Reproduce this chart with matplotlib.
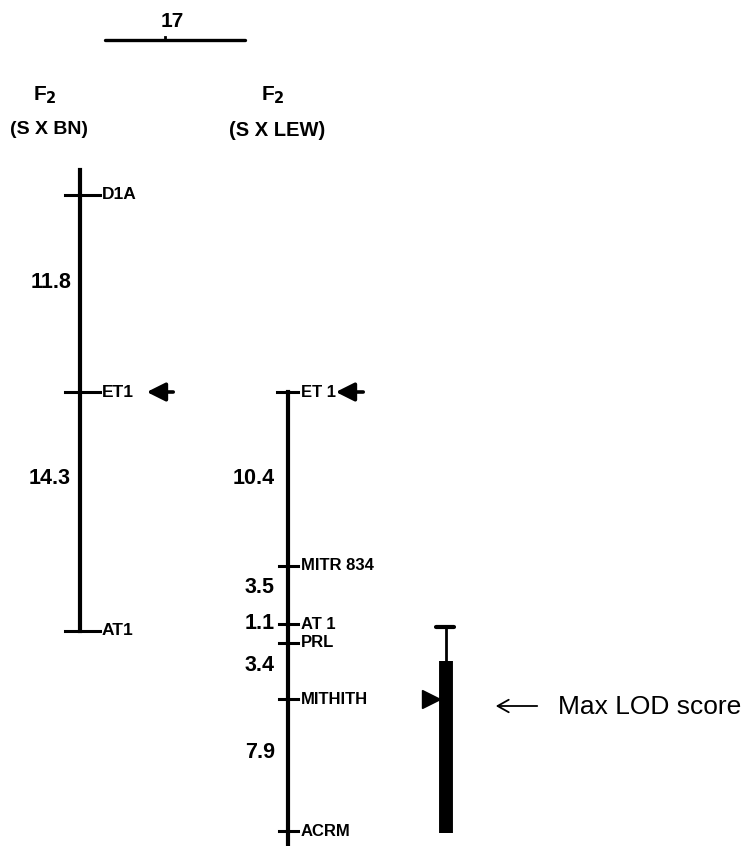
import numpy as np
import matplotlib.pyplot as plt

# ===== MAP DATA (cM) =====
left_markers = ["D1A", "ET1", "AT1"]
left_intervals = [11.8, 14.3]
right_markers = ["ET 1", "MITR 834", "AT 1", "PRL", "MITHITH", "ACRM"]
right_intervals = [10.4, 3.5, 1.1, 3.4, 7.9]
lod_outer = (14.1, 26.4)   # thin whisker + bar
lod_inner = (16.1, 26.4)   # solid bar
lod_peak_marker = "MITHITH"

left_pos = np.concatenate([[0], np.cumsum(left_intervals)])
left_pos -= left_pos[left_markers.index("ET1")]
right_pos = np.concatenate([[0], np.cumsum(right_intervals)])

# ===== LAYOUT =====
px_per_cm = 16.7
y0_px = 392  # ET1 row
W, H = 744, 846
to_cm = lambda ypx: (ypx - y0_px) / px_per_cm

# where the interval lengths are written (pixel rows)
left_dist_y = [283, 478]
right_dist_y = [478, 587, 623, 665, 752]

fig = plt.figure(figsize=(W / 100, H / 100), dpi=100)
ax = fig.add_axes([0, 0, 1, 1])
ax.set_xlim(0, W)
ax.set_ylim(to_cm(H), to_cm(0))
ax.axis("off")

fam = ["Liberation Sans", "DejaVu Sans"]
bold = dict(family=fam, fontweight="bold")
lw = 3.0

# chromosome label
ax.plot([105, 245], [to_cm(40)] * 2, color="k", lw=2.4, solid_capstyle="round")
ax.plot([165, 165], [to_cm(37), to_cm(40)], color="k", lw=2)
ax.text(172, to_cm(22), "17", ha="center", va="center", fontsize=15, **bold)

# headers
for xc, cross, fs in [(49, "(S X BN)", 14), (277, "(S X LEW)", 14.5)]:
    ax.text(xc - 4, to_cm(95), r"F$_\mathbf{2}$", ha="center", va="center", fontsize=15, **bold)
    ax.text(xc, to_cm(130), cross, ha="center", va="center", fontsize=fs, **bold)

def arrow_left(x0, x1, y):
    ax.annotate("", xy=(x0, y), xytext=(x1, y),
                arrowprops=dict(arrowstyle="-|>,head_length=0.7,head_width=0.35",
                                mutation_scale=16, color="k", lw=2.6))

# left map
lx = 80
ax.plot([lx, lx], [to_cm(170), left_pos[-1]], color="k", lw=lw)
for name, y in zip(left_markers, left_pos):
    ax.plot([lx - 15, lx + 20], [y, y], color="k", lw=2.2)
    ax.text(lx + 22, y, name, ha="left", va="center", fontsize=12.5, **bold)
for ypx, d in zip(left_dist_y, left_intervals):
    ax.text(71, to_cm(ypx), f"{d:.1f}", ha="right", va="center", fontsize=15.5, **bold)
arrow_left(144, 176, 0)

# right map
rx = 288
ax.plot([rx, rx], [right_pos[0], to_cm(H)], color="k", lw=lw)
for i, (name, y) in enumerate(zip(right_markers, right_pos)):
    x_start = rx - 11 if i == 0 else rx - 9
    ax.plot([x_start, rx + 10], [y, y], color="k", lw=2.2)
    ax.text(rx + 13, y, name, ha="left", va="center", fontsize=12, **bold)
for ypx, d in zip(right_dist_y, right_intervals):
    ax.text(275, to_cm(ypx), f"{d:.1f}", ha="right", va="center", fontsize=15.5, **bold)
arrow_left(333, 366, 0)

# LOD support interval
bx = 446
ax.plot([bx, bx], [lod_outer[0], lod_inner[0]], color="k", lw=2)
ax.plot([bx - 10, bx + 8], [lod_outer[0]] * 2, color="k", lw=3, solid_capstyle="round")
ax.plot([bx, bx], [lod_inner[0], lod_inner[1]], color="k", lw=10, solid_capstyle="butt")
peak = right_pos[right_markers.index(lod_peak_marker)]
ax.plot([bx - 15], [peak], marker=">", color="k", markersize=13)

# annotation
ax.annotate("", xy=(493, to_cm(706)), xytext=(540, to_cm(706)),
            arrowprops=dict(arrowstyle="->,head_length=0.8,head_width=0.45",
                            color="k", lw=1.3))
ax.text(558, to_cm(707), "Max LOD score", ha="left", va="center", fontsize=19, family=fam)

fig.savefig("out.png", dpi=100, facecolor="white")
